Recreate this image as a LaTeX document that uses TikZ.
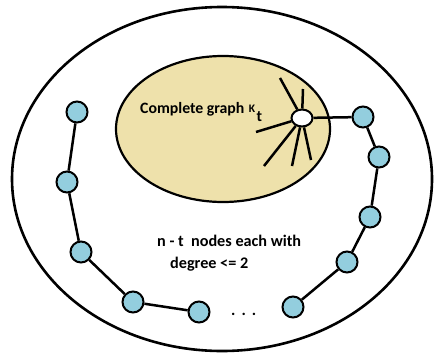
\documentclass[tikz,border=0pt]{standalone}
\usepackage{fontspec}
\setmainfont{Carlito}
\usetikzlibrary{shapes.geometric}
\definecolor{nodeblue}{RGB}{147,206,222}
\definecolor{tanfill}{RGB}{238,225,171}
\pgfdeclarelayer{back}
\pgfdeclarelayer{edges}
\pgfsetlayers{back,edges,main}
\begin{document}
\begin{tikzpicture}[x=1pt,y=-1pt,
  vtx/.style={circle,draw=black,line width=2pt,fill=nodeblue,minimum size=21pt,inner sep=0pt},
  hub/.style={ellipse,draw=black,line width=2pt,fill=white,minimum width=21pt,minimum height=17pt,inner sep=0pt},
  edgeline/.style={line width=2.5pt},
  lbl/.style={inner sep=0pt,anchor=base west,font=\bfseries\fontsize{16.2}{19}\selectfont}]
\useasboundingbox (0,0) rectangle (435,353);
\begin{pgfonlayer}{back}
  \draw[line width=2.6pt] (222,179) ellipse [x radius=210, y radius=172];
  \draw[line width=2.2pt, fill=tanfill] (223,129) ellipse [x radius=107, y radius=73];
\end{pgfonlayer}
% hub of K_t
\node[hub] (w) at (302,118) {};
% spoke ends
\coordinate (s1) at (280,78);
\coordinate (s2) at (303,89);
\coordinate (s3) at (256,132);
\coordinate (s4) at (264,166);
\coordinate (s5) at (292,166);
\coordinate (s6) at (311,160);
% left chain
\node[vtx] (a1) at (77,112) {};
\node[vtx] (a2) at (67,182) {};
\node[vtx] (a3) at (81,252) {};
\node[vtx] (a4) at (133,302) {};
\node[vtx] (a5) at (199,312) {};
% right chain
\node[vtx] (b1) at (363,117) {};
\node[vtx] (b2) at (379,157) {};
\node[vtx] (b3) at (370,217) {};
\node[vtx] (b4) at (347,262) {};
\node[vtx] (b5) at (293,307) {};
\begin{pgfonlayer}{edges}
  \foreach \s in {s1,s2,s3,s4,s5,s6} \draw[edgeline] (w) -- (\s);
  \draw[edgeline] (w) -- (b1) -- (b2) -- (b3) -- (b4) -- (b5);
  \draw[edgeline] (a1) -- (a2) -- (a3) -- (a4) -- (a5);
\end{pgfonlayer}
% labels
\node[lbl,font=\bfseries\fontsize{15.8}{19}\selectfont] (kt) at (140,113.5) {Complete graph\hspace{4.5pt}\raisebox{1.5pt}{\fontsize{11.5}{12}\selectfont K}\hspace{1.5pt}\raisebox{-7.5pt}{t}};
\node[lbl] (l1) at (157,246) {n - t~~nodes each with};
\node[lbl] (l2) at (170,268) {degree <= 2};
\node[lbl] (dots) at (231,315) {.\hspace{6pt}.\hspace{6pt}.};
\end{tikzpicture}
\end{document}
